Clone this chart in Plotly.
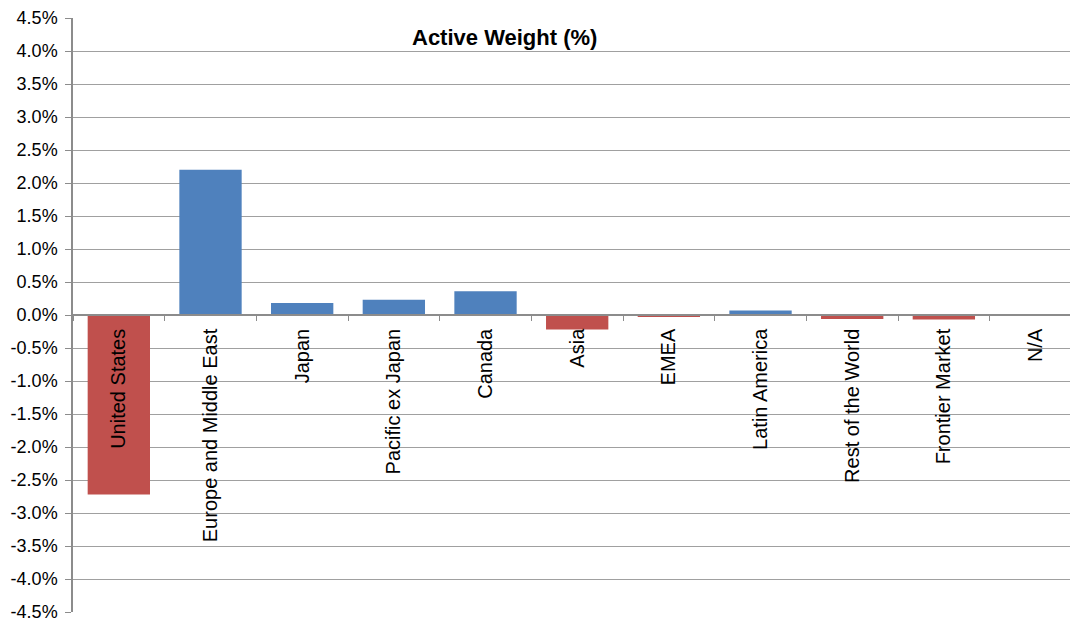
import plotly.graph_objects as go

categories = ["United States", "Europe and Middle East", "Japan", "Pacific ex Japan",
              "Canada", "Asia", "EMEA", "Latin America", "Rest of the World",
              "Frontier Market", "N/A"]
active_weight = [-2.72, 2.20, 0.18, 0.23, 0.36, -0.22, -0.02, 0.07, -0.06, -0.07, 0.0]

y_tick_vals = [4.5, 4.0, 3.5, 3.0, 2.5, 2.0, 1.5, 1.0, 0.5, 0.0,
               -0.5, -1.0, -1.5, -2.0, -2.5, -3.0, -3.5, -4.0, -4.5]
y_tick_text = ["4.5%", "4.0%", "3.5%", "3.0%", "2.5%", "2.0%", "1.5%", "1.0%", "0.5%", "0.0%",
               "-0.5%", "-1.0%", "-1.5%", "-2.0%", "-2.5%", "-3.0%", "-3.5%", "-4.0%", "-4.5%"]

BLUE = "#4F81BD"
RED = "#C0504D"
colors = [BLUE if v > 0 else RED for v in active_weight]

fig = go.Figure()
fig.add_trace(go.Bar(
    x=categories, y=active_weight,
    marker=dict(color=colors, line=dict(width=0)),
    showlegend=False,
))

fig.update_layout(
    width=1070, height=625,
    margin=dict(l=73, r=0, t=18, b=13),
    paper_bgcolor="white", plot_bgcolor="white",
    bargap=0.32,
    font=dict(family="Liberation Sans, Arial, sans-serif", color="black"),
    xaxis=dict(
        type="category",
        range=[-0.5, 10.376],
        anchor="free", position=0.5,
        showline=True, linecolor="#8c8c8c", linewidth=1.5,
        ticks="outside", ticklen=5, tickcolor="#8c8c8c", tickwidth=1,
        tickson="boundaries",
        tickangle=-90,
        ticklabelstandoff=5,
        tickfont=dict(size=20, color="black"),
        showgrid=False, zeroline=False,
    ),
    yaxis=dict(
        range=[-4.5, 4.5],
        tickvals=y_tick_vals, ticktext=y_tick_text,
        showline=True, linecolor="#8c8c8c", linewidth=1.5,
        ticks="outside", ticklen=6, tickcolor="#8c8c8c",
        ticklabelstandoff=4,
        tickfont=dict(size=18, color="black"),
        showgrid=True, gridcolor="#a0a0a0", gridwidth=1.3,
        zeroline=False,
    ),
    annotations=[dict(
        text="<b>Active Weight (%)</b>",
        xref="paper", yref="paper",
        x=(504 - 73) / 997, y=(625 - 13 - 38) / 594,
        xanchor="center", yanchor="middle",
        showarrow=False,
        font=dict(size=22, color="black", family="Liberation Sans, Arial, sans-serif"),
    )],
)

fig.write_html(
    "out.html",
    config={"displayModeBar": False},
    post_script="document.body.style.margin='0';document.body.style.overflow='hidden';",
)
